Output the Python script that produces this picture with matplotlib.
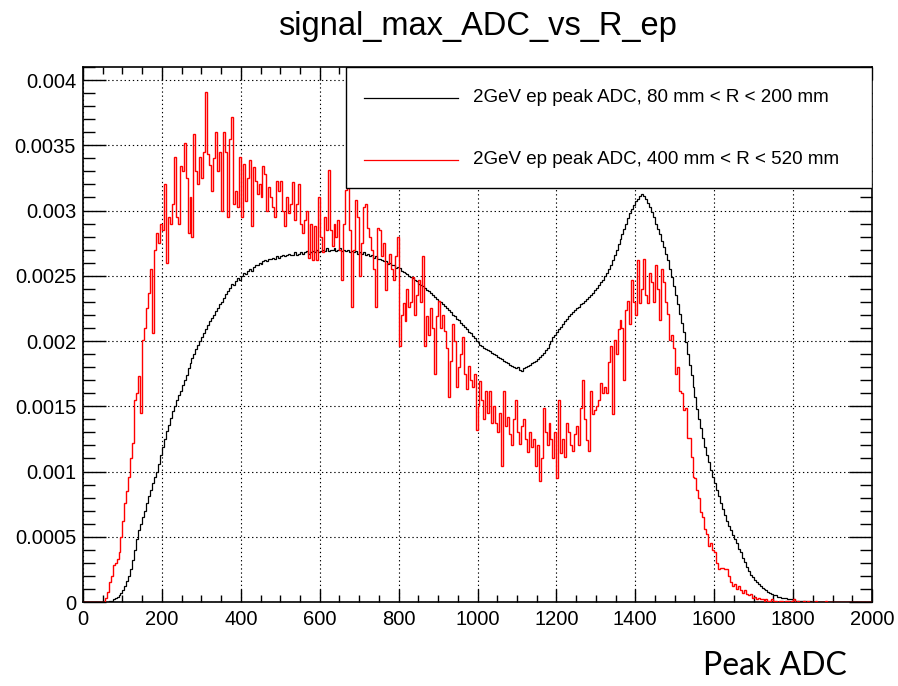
import numpy as np
import matplotlib
matplotlib.use("Agg")
import matplotlib.pyplot as plt
from matplotlib.patches import Rectangle
from matplotlib.ticker import MultipleLocator, FuncFormatter

# ---------------------------------------------------------------------
# Histogram data (units of 1e-3, 5 ADC bins)
# ---------------------------------------------------------------------
X_MIN, X_MAX, BIN_WIDTH = 0, 2000, 5
SCALE = 1e-3
FIRST_BIN = 50  # both series start at this ADC value

LABEL_INNER = "2GeV ep peak ADC, 80 mm < R < 200 mm"
LABEL_OUTER = "2GeV ep peak ADC, 400 mm < R < 520 mm"

inner_ring = [
    0.00, 0.00, 0.00, 0.01, 0.01, 0.02, 0.03, 0.04, 0.05, 0.07,
    0.09, 0.12, 0.16, 0.20, 0.25, 0.32, 0.40, 0.48, 0.55, 0.60,
    0.65, 0.70, 0.76, 0.81, 0.86, 0.91, 0.96, 1.00, 1.06, 1.13,
    1.19, 1.25, 1.31, 1.36, 1.41, 1.46, 1.50, 1.55, 1.59, 1.62,
    1.66, 1.70, 1.74, 1.79, 1.83, 1.87, 1.90, 1.94, 1.97, 2.00,
    2.03, 2.06, 2.09, 2.12, 2.15, 2.18, 2.20, 2.23, 2.25, 2.28,
    2.30, 2.33, 2.36, 2.38, 2.41, 2.44, 2.43, 2.46, 2.48, 2.47,
    2.50, 2.52, 2.51, 2.54, 2.55, 2.54, 2.57, 2.58, 2.58, 2.60,
    2.59, 2.61, 2.62, 2.61, 2.63, 2.63, 2.64, 2.63, 2.65, 2.64,
    2.65, 2.66, 2.65, 2.66, 2.67, 2.66, 2.66, 2.68, 2.66, 2.67,
    2.68, 2.67, 2.68, 2.69, 2.67, 2.68, 2.69, 2.68, 2.70, 2.68,
    2.69, 2.70, 2.69, 2.71, 2.69, 2.70, 2.70, 2.71, 2.69, 2.70,
    2.71, 2.69, 2.70, 2.69, 2.70, 2.68, 2.69, 2.68, 2.69, 2.67,
    2.68, 2.67, 2.68, 2.66, 2.67, 2.65, 2.66, 2.64, 2.65, 2.63,
    2.63, 2.62, 2.61, 2.61, 2.59, 2.60, 2.58, 2.58, 2.56, 2.57,
    2.56, 2.54, 2.53, 2.52, 2.51, 2.50, 2.49, 2.48, 2.47, 2.46,
    2.44, 2.43, 2.42, 2.41, 2.39, 2.38, 2.37, 2.35, 2.34, 2.32,
    2.31, 2.30, 2.28, 2.27, 2.25, 2.24, 2.22, 2.20, 2.19, 2.17,
    2.16, 2.14, 2.12, 2.11, 2.09, 2.07, 2.06, 2.04, 2.02, 2.00,
    1.99, 1.97, 1.96, 1.95, 1.94, 1.93, 1.92, 1.91, 1.90, 1.89,
    1.88, 1.87, 1.86, 1.85, 1.84, 1.83, 1.82, 1.81, 1.80, 1.79,
    1.80, 1.78, 1.77, 1.79, 1.80, 1.81, 1.82, 1.83, 1.84, 1.85,
    1.86, 1.88, 1.89, 1.91, 1.93, 1.95, 1.98, 2.00, 2.03, 2.05,
    2.07, 2.09, 2.11, 2.13, 2.15, 2.17, 2.19, 2.21, 2.22, 2.24,
    2.25, 2.26, 2.28, 2.29, 2.31, 2.32, 2.34, 2.35, 2.37, 2.39,
    2.41, 2.43, 2.45, 2.47, 2.50, 2.52, 2.55, 2.58, 2.62, 2.66,
    2.70, 2.74, 2.78, 2.82, 2.86, 2.90, 2.94, 2.98, 3.01, 3.04,
    3.07, 3.09, 3.11, 3.13, 3.11, 3.09, 3.06, 3.03, 2.99, 2.95,
    2.90, 2.86, 2.82, 2.77, 2.72, 2.67, 2.62, 2.55, 2.49, 2.42,
    2.35, 2.28, 2.21, 2.14, 2.07, 1.99, 1.90, 1.82, 1.74, 1.65,
    1.57, 1.48, 1.40, 1.33, 1.26, 1.19, 1.13, 1.07, 1.01, 0.96,
    0.91, 0.86, 0.81, 0.76, 0.71, 0.67, 0.62, 0.58, 0.55, 0.51,
    0.48, 0.45, 0.41, 0.38, 0.34, 0.31, 0.27, 0.24, 0.21, 0.19,
    0.17, 0.15, 0.14, 0.12, 0.11, 0.10, 0.09, 0.08, 0.07, 0.06,
    0.05, 0.05, 0.04, 0.04, 0.03, 0.03, 0.03, 0.02, 0.02, 0.02,
    0.02, 0.01, 0.01, 0.01, 0.01, 0.01, 0.01, 0.00, 0.01, 0.00,
]

outer_ring = [
    0.00, 0.03, 0.08, 0.15, 0.20, 0.28, 0.30, 0.33, 0.38, 0.50,
    0.62, 0.76, 0.85, 0.96, 1.10, 1.22, 1.55, 1.60, 1.73, 1.45,
    2.01, 2.10, 2.25, 2.37, 2.55, 2.06, 2.70, 2.83, 2.75, 2.90,
    2.85, 3.20, 2.60, 2.95, 2.90, 3.05, 3.41, 2.95, 2.90, 3.34,
    3.30, 3.52, 3.25, 2.83, 3.10, 2.80, 3.59, 3.30, 3.20, 3.41,
    3.25, 3.45, 3.91, 3.43, 3.35, 3.15, 3.40, 3.60, 3.30, 3.45,
    3.00, 3.60, 3.45, 2.95, 3.55, 3.72, 3.05, 3.15, 3.03, 3.41,
    2.95, 3.36, 3.07, 3.25, 3.39, 2.88, 3.33, 3.23, 3.13, 3.20,
    3.10, 3.34, 3.28, 3.00, 3.18, 3.10, 3.03, 2.95, 3.23, 3.15,
    3.23, 3.00, 2.88, 3.10, 2.98, 3.05, 3.22, 2.93, 3.05, 3.20,
    2.90, 2.83, 2.93, 3.00, 2.64, 2.90, 2.62, 2.88, 2.62, 3.10,
    2.80, 2.68, 2.95, 2.85, 3.31, 2.85, 2.73, 2.90, 2.80, 2.93,
    2.70, 2.47, 2.90, 3.16, 3.18, 2.85, 2.26, 2.70, 3.08, 2.95,
    2.50, 2.75, 3.03, 3.05, 2.87, 2.80, 2.70, 2.55, 2.26, 2.87,
    2.85, 2.65, 2.75, 2.39, 2.60, 2.67, 2.55, 2.47, 2.65, 2.80,
    1.96, 2.20, 2.29, 2.15, 2.40, 2.26, 2.30, 2.49, 2.20, 2.35,
    2.47, 2.30, 2.65, 1.96, 2.19, 2.05, 2.25, 2.10, 1.75, 2.19,
    2.31, 2.10, 2.20, 2.08, 1.95, 1.57, 1.85, 2.13, 2.00, 1.65,
    1.80, 1.90, 2.03, 1.75, 1.63, 1.81, 1.70, 1.65, 1.75, 1.32,
    1.50, 1.69, 1.55, 1.40, 1.62, 1.45, 1.62, 1.37, 1.50, 1.37,
    1.30, 1.45, 1.04, 1.62, 1.35, 1.42, 1.29, 1.20, 1.40, 1.55,
    1.30, 1.21, 1.35, 1.40, 1.25, 1.15, 1.30, 1.19, 1.25, 1.04,
    1.20, 0.93, 1.10, 1.49, 1.30, 1.20, 1.37, 1.25, 1.10, 1.30,
    0.95, 1.55, 1.14, 1.25, 1.11, 1.37, 1.30, 1.20, 1.16, 1.29,
    1.35, 1.20, 1.49, 1.70, 1.40, 1.24, 1.16, 1.62, 1.44, 1.47,
    1.50, 1.55, 1.68, 1.60, 1.65, 1.60, 1.84, 1.96, 1.44, 2.01,
    1.90, 2.09, 2.16, 2.10, 1.70, 2.24, 2.31, 2.13, 2.47, 2.30,
    2.20, 2.62, 2.29, 2.40, 2.63, 2.35, 2.29, 2.52, 2.45, 2.30,
    2.58, 2.40, 2.16, 2.55, 2.45, 2.30, 2.21, 2.01, 2.05, 1.95,
    1.75, 1.80, 1.62, 1.60, 1.47, 1.49, 1.26, 1.26, 1.11, 0.96,
    0.95, 0.86, 0.80, 0.69, 0.65, 0.56, 0.52, 0.43, 0.45, 0.40,
    0.38, 0.30, 0.25, 0.26, 0.26, 0.25, 0.25, 0.20, 0.15, 0.12,
    0.14, 0.10, 0.12, 0.09, 0.07, 0.09, 0.06, 0.05, 0.06, 0.03,
    0.04, 0.02, 0.03, 0.02, 0.02, 0.01, 0.02, 0.01, 0.01, 0.02,
    0.01, 0.01, 0.00, 0.01, 0.01, 0.00, 0.01, 0.01, 0.00, 0.01,
    0.02, 0.00, 0.01, 0.00, 0.00, 0.01, 0.00, 0.01, 0.00, 0.00,
    0.00, 0.01, 0.00, 0.00, 0.00, 0.00, 0.01, 0.00,
]


def fill_bins(values, edges):
    """Place the read-off values into a full 0-2000 histogram."""
    full = np.zeros(len(edges) - 1)
    i0 = int((FIRST_BIN - X_MIN) / BIN_WIDTH)
    full[i0:i0 + len(values)] = np.array(values) * SCALE
    return full


edges = np.arange(X_MIN, X_MAX + BIN_WIDTH, BIN_WIDTH)
h_inner = fill_bins(inner_ring, edges)
h_outer = fill_bins(outer_ring, edges)

# ---------------------------------------------------------------------
# Figure (ROOT-like canvas)
# ---------------------------------------------------------------------
plt.rcParams["font.family"] = ["Liberation Sans", "DejaVu Sans"]

W, H = 898, 686
fig = plt.figure(figsize=(W / 100, H / 100), dpi=100)
ax_l, ax_r, ax_t, ax_b = 83, 872, 67, 602
ax = fig.add_axes([ax_l / W, 1 - ax_b / H, (ax_r - ax_l) / W, (ax_b - ax_t) / H])

ax.stairs(h_inner, edges, color="black", lw=0.9, zorder=3)
ax.stairs(h_outer, edges, color="#ff0000", lw=1.0, zorder=4)

ax.set_xlim(X_MIN, X_MAX)
ax.set_ylim(0, 0.0041)

ax.xaxis.set_major_locator(MultipleLocator(200))
ax.xaxis.set_minor_locator(MultipleLocator(50))
ax.yaxis.set_major_locator(MultipleLocator(0.0005))
ax.yaxis.set_minor_locator(MultipleLocator(0.0001))
ax.yaxis.set_major_formatter(FuncFormatter(lambda v, p: f"{v:g}"))

ax.tick_params(axis="both", which="both", direction="in",
               top=True, right=True, width=1.0, labelsize=14.5)
ax.tick_params(axis="x", which="major", length=9.5, pad=6)
ax.tick_params(axis="x", which="minor", length=5)
ax.tick_params(axis="y", which="major", length=16.5, pad=5)
ax.tick_params(axis="y", which="minor", length=8.5)
for s in ax.spines.values():
    s.set_linewidth(1.2)

ax.grid(True, which="major", color="black", lw=0.8, ls=(0, (1.2, 2.5)), zorder=1)

# legend box drawn in axes fraction, like ROOT's TLegend
lx0 = (346 - ax_l) / (ax_r - ax_l)
ly0 = (ax_b - 188) / (ax_b - ax_t)
ax.add_patch(Rectangle((lx0, ly0), 1 - lx0, 1 - ly0, transform=ax.transAxes,
                       facecolor="white", edgecolor="black", lw=1.0, zorder=6))
rows = [(LABEL_INNER, "black", 98), (LABEL_OUTER, "#ff0000", 160)]
for label, col, ypx in rows:
    yy = (ax_b - ypx) / (ax_b - ax_t)
    ax.plot([(364 - ax_l) / (ax_r - ax_l), (458 - ax_l) / (ax_r - ax_l)], [yy, yy],
            color=col, lw=0.9, transform=ax.transAxes, zorder=7)
    ax.text((473 - ax_l) / (ax_r - ax_l), yy, label, transform=ax.transAxes,
            fontsize=13.5, va="center", ha="left", zorder=7)

fig.text((ax_l + ax_r) / 2 / W, 1 - 26 / H, "signal_max_ADC_vs_R_ep",
         fontsize=23.5, ha="center", va="center")
fig.text(775 / W, 1 - 666 / H, "Peak ADC", fontsize=23,
         family=["Lato", "DejaVu Sans"], ha="center", va="center")

fig.savefig("out.png", dpi=100)
